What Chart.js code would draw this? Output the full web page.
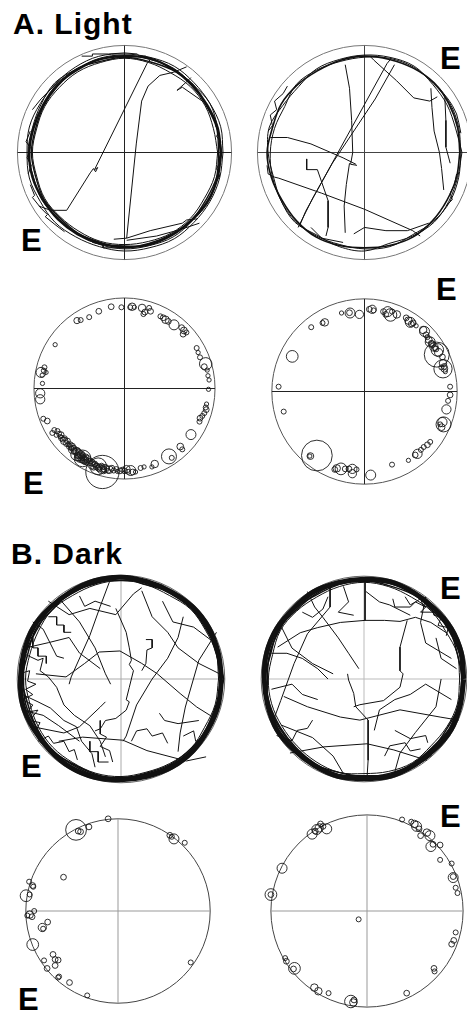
<!DOCTYPE html>
<html>
<head>
<meta charset="utf-8">
<title>Arena paths - Light / Dark</title>
<script src="https://cdn.jsdelivr.net/npm/chart.js"></script>
<style>
  body { margin: 0; width: 467px; height: 1015px; overflow: hidden; background: #fff; position: relative;
         font-family: "Liberation Sans", Arial, sans-serif; }
  canvas { position: absolute; }
  .lbl { position: absolute; font-weight: bold; line-height: 1; color: #000; white-space: nowrap; }
  .title { font-size: 30px; letter-spacing: 1px; }
  .e { font-size: 31px; }
</style>
</head>
<body>
<div class="lbl title" style="left:13px; top:9px;">A. Light</div>
<div class="lbl title" style="left:11px; top:539px;">B. Dark</div>
<div class="lbl e" style="left:21px; top:225px;">E</div>
<div class="lbl e" style="left:440px; top:43px;">E</div>
<div class="lbl e" style="left:23px; top:468px;">E</div>
<div class="lbl e" style="left:436px; top:274px;">E</div>
<div class="lbl e" style="left:21px; top:751px;">E</div>
<div class="lbl e" style="left:440px; top:573px;">E</div>
<div class="lbl e" style="left:18px; top:984px;">E</div>
<div class="lbl e" style="left:440px; top:801px;">E</div>

<canvas id="a1"></canvas>
<canvas id="a2"></canvas>
<canvas id="a3"></canvas>
<canvas id="a4"></canvas>
<canvas id="b1"></canvas>
<canvas id="b2"></canvas>
<canvas id="b3"></canvas>
<canvas id="b4"></canvas>

<script>
// arena units: wall = 100, centre = 0
const arenaRadius = 100;
const span = 106;
const crossSpan = [-100, 100];
const lapAngles = [0, 15, 30, 45, 60, 75, 90, 105, 120, 135, 150, 165, 180, 195, 210, 225, 240, 255, 270, 285, 300, 315, 330, 345];
const stopScale = 1.25;   // stop circle size, px per unit

// ---- A. Light, trajectory (left) ----
const a1Lap1 = [90, 90, 89, 89, 90, 91, 90, 90, 89, 89, 88, 88, 89, 89, 88, 88, 88, 88, 88, 89, 89, 89, 90, 90];
const a1Lap2 = [92, 93, 92, 92, 93, 92, 92, 93, 92, 91, 91, 92, 91, 92, 91, 92, 91, 91, 92, 92, 93, 92, 92, 92];
const a1Lap3 = [87, 86, 87, 87, 86, 87, 88, 87, 87, 86, 86, 85, 86, 85, 86, 85, 85, 86, 86, 86, 87, 87, 86, 87];
const a1Lap4 = [88, 89, 88, 90, 89, 88, 89, 88, 90, 88, 87, 86, 87, 86, 87, 86, 87, 87, 89, 88, 88, 89, 88, 89];
const a1Lap5 = [91, 90, 92, 90, 91, 90, 91, 91, 90, 92, 90, 89, 90, 88, 89, 87, 88, 89, 90, 90, 91, 90, 91, 90];
const a1Paths = [
  [[-80, -50], [-69, -54], [-54, -54], [-32, -19], [-29, -15], [-27, -18], [-25, -14], [-28, -16], [21, 83], [25, 88]],
  [[-10, -81], [2, -80], [11, 8], [16, 48], [22, 62], [33, 72], [46, 75], [58, 80]],
  [[62, 70], [58, 66], [49, 58], [54, 61], [77, 45]],
  [[2, -80], [24, -73], [54, -66], [58, -63], [68, -62]],
  [[2, -82], [30, -78], [52, -72], [70, -66]],
  [[-86, 40], [-78, 50], [-62, 66], [-50, 75]],
  [[-88, -30], [-84, -40], [-86, -42], [-78, -52], [-72, -58], [-74, -60], [-64, -68], [-56, -74]],
  [[-40, 90], [-30, 90], [-30, 92], [-15, 92], [0, 93], [12, 92], [14, 90], [20, 90]],
  [[85, 25], [88, 20], [86, 15], [90, 10], [87, 0], [90, -8], [86, -15], [89, -22], [84, -30]],
  [[-88, 20], [-92, 10], [-88, 5], [-91, -5], [-87, -12], [-90, -20]],
  [[-30, -84], [-20, -86], [-20, -89], [-5, -89], [-5, -87], [8, -88]]
];

// ---- A. Light, trajectory (right) ----
const a2Lap1 = [89, 90, 91, 92, 91, 90, 90, 89, 88, 89, 90, 89, 91, 90, 89, 90, 91, 90, 89, 90, 91, 90, 89, 89];
const a2Lap2 = [91, 88, 89, 90, 93, 92, 91, 90, 90, 87, 88, 92, 90, 88, 90, 92, 89, 91, 92, 88, 90, 92, 91, 90];
const a2Lap3 = [90, 91, 92, 91, 92, 91, 89, 88, 89, 90, 86, 87, 88, 89, 90, 91, 90, 89, 90, 91, 89, 91, 92, 91];
const a2Paths = [
  [[-60, -67], [-55, -55], [21, 83], [25, 88]],
  [[-62, -70], [-48, -42], [-30, -10], [10, 50], [28, 82]],
  [[-18, 82], [-14, 60], [-12, 30], [-11, 0], [-13, -11], [-7, -12]],
  [[-14, -10], [-17, -30], [-19, -50], [-18, -75]],
  [[-91, -12], [-90, -20], [-84, -23], [-80, -24], [-40, -38], [0, -53], [45, -73], [52, -78]],
  [[-88, 14], [-72, 14], [-50, 8], [-20, -5], [-8, -11]],
  [[-54, -6], [-54, -16], [-44, -16], [-34, -45], [-34, -70], [-36, -78]],
  [[5, 90], [9, 86], [30, 67], [46, 51], [61, 48], [68, 52]],
  [[62, 60], [63, 42], [65, 20], [70, 0], [72, -15], [74, -35]],
  [[75, 52], [76, 30], [76, 5], [80, -10]],
  [[-10, -76], [0, -70], [20, -73], [40, -73], [60, -66]],
  [[-50, -70], [-40, -80], [-20, -84]],
  [[-90, 20], [-86, 25], [-88, 35], [-82, 40], [-84, 48], [-76, 55], [-72, 62]],
  [[70, 60], [74, 55], [78, 50], [82, 44], [86, 36], [88, 28], [90, 18]],
  [[86, -20], [84, -30], [80, -38], [82, -44], [76, -50]]
];

// ---- A. Light, stops (x, y, radius) ----
const a3Stops = [
  [-52.5, 75, 2.5], [-48.4, 75.6, 2], [-39, 78.8, 2], [-28.4, 85.3, 2.3], [-14.7, 90.3, 2.3], [-3.4, 89.7, 2],
  [6.3, 89.7, 2], [8.4, 90.3, 3], [10.9, 89.7, 1.7], [19.4, 89, 3], [22.5, 84.4, 2.3], [20.9, 82.2, 2],
  [27.2, 89, 2], [28.8, 85.3, 2.3], [39.7, 79.7, 2], [42.8, 78.1, 2.3], [45.3, 75.9, 3], [48.4, 74.1, 2.3],
  [54.7, 70.3, 4], [63.1, 67.2, 2.3], [65.6, 64.1, 2.7], [68.4, 61.9, 2], [64.7, 60, 2.3], [-76.6, 48.4, 1.7],
  [79.7, 44.7, 2], [81.3, 39.7, 1.7], [83.4, 34.4, 2], [89.7, 27.2, 5], [88.1, 24.1, 2.3], [91.3, 20.3, 1.7],
  [92.2, 14.1, 1.7], [93.4, 9.4, 1.7], [92.8, -0.9, 1.7], [90.6, -17.2, 1.7], [89.7, -20.9, 2], [90.3, -23.4, 2.3],
  [88.1, -27.2, 2], [85.9, -30.3, 2], [83.4, -32.8, 2.3], [82.8, -36.6, 2], [73.4, -50.9, 4], [61.6, -64.1, 2.7],
  [63.8, -67.2, 2], [49.1, -75, 6], [52.2, -76.6, 2], [33.4, -83.4, 3], [30.3, -86.6, 1.7], [21.6, -86.6, 1.7],
  [17.8, -87.8, 2], [-88.4, 23.4, 2], [-89.1, 19.7, 2], [-86.6, 17.8, 1.7], [-92.2, 17.8, 4], [-90.9, 14.7, 1.7],
  [-90.6, 5.6, 1.7], [-93.1, -5.3, 3.7], [-93.1, -11.9, 3.7], [-89.7, -33.4, 2], [-85.3, -35.9, 2.3],
  [-77.5, -45.9, 2], [-79.7, -49.1, 2], [-75.3, -51.6, 1.7], [-72.2, -50, 2], [-69.7, -54.7, 2.3], [-66.6, -57.8, 3],
  [-64.1, -60.9, 2.3], [-60.9, -64.1, 2.3], [-57.2, -67.8, 3.3], [-52.5, -72.8, 5], [-49.4, -75.9, 4],
  [-46.3, -77.2, 6.7], [-44.1, -79.1, 3.3], [-40, -81.3, 3], [-35.9, -84.4, 3.3], [-29.1, -85.9, 6.7],
  [-24.4, -92.2, 13.3], [-25.9, -89.1, 3.3], [-21.3, -88.4, 3.3], [-16.6, -89.7, 3], [-11.9, -90.6, 2],
  [-7.8, -91.6, 1.7], [-2.5, -89.7, 2], [2.2, -89.1, 3], [6.9, -90.6, 4], [9.1, -92.2, 2.3], [12.2, -92.2, 1.7],
  [-54.1, -70.3, 2.3], [-50.9, -74.1, 2.3], [-47.8, -75, 2], [-45.3, -76.6, 2.3], [-42.2, -78.4, 2],
  [-50.3, -76.6, 2.7], [-47.2, -79.1, 2.3], [-44.1, -80.9, 2], [-32.8, -83.4, 2.3], [-30.6, -85.3, 2],
  [-27.5, -86.6, 2.3], [-25.3, -85.3, 2], [-22.8, -89.1, 2.3], [-19.7, -87.8, 2], [-27.5, -89.1, 2],
  [-68.1, -56.3, 2], [-71, -53.1, 1.7], [-62.2, -61.6, 2], [-58.8, -65.9, 2], [-55.9, -68.8, 2.3],
  [-60, -62, 2.3], [-58, -64, 2.7], [-56, -66, 2.3], [-53, -69, 3], [-51, -71, 2.7], [-48, -73, 3],
  [-46, -74, 2.3], [-43, -76, 2.7], [-41, -78, 3], [-38, -80, 2.3], [-36, -82, 2.7], [-33, -84, 2],
  [-31, -86, 2.7], [-52, -74, 2.3], [-49, -77, 2], [-45, -79, 2.7], [-42, -81, 2.3], [-34, -87, 2.3],
  [-29, -88, 2.3], [-24, -87, 2], [-23, -91, 2.3], [-18, -91, 2], [-14, -88, 2.3], [-9, -89, 2],
  [-5, -91, 2.3], [0, -91, 2.3], [4, -92, 2], [-74, -47, 2], [-70, -51, 2.3], [-66, -55, 2], [-63, -58, 2.3]
];
const a4Stops = [
  [-24.8, 84.7, 1.7], [-15.6, 84.7, 4], [-16.2, 85, 2.3], [-5.5, 83.2, 3.3], [5.2, 88.7, 2.3], [8.3, 88.7, 3.3],
  [9.8, 87.5, 2], [20.5, 86.2, 2.3], [25.1, 86.2, 4], [28.1, 82.6, 5], [22.9, 83.2, 2.3], [29.7, 86.2, 2],
  [34.9, 83.2, 3], [45, 79.5, 2.3], [47.4, 76.5, 3], [49.5, 74.6, 4], [52.6, 74, 2.3], [55.7, 70.9, 1.7],
  [63.3, 66.4, 3], [64.8, 64.8, 4], [66.4, 61.2, 2.3], [67.9, 58.7, 2], [69.4, 55.7, 2.7], [70.9, 53.5, 4],
  [73.1, 51.1, 2.7], [74.9, 48, 3.3], [77.1, 45.9, 2.3], [78.6, 45, 5], [78, 39.8, 10], [84.1, 37.3, 2.3],
  [84.7, 30.6, 3], [86.2, 24.5, 2.7], [87.2, 21.4, 1.7], [84.7, 24.5, 7.3], [-57.5, 69.4, 2], [-45.3, 74, 2],
  [-42.8, 74.6, 3], [-78, 37.9, 4.7], [-92.7, 5.2, 2], [-87.2, -21.7, 2], [92.4, 5.2, 2], [92.4, -3.7, 2.3],
  [90.2, -10.1, 2], [88.4, -19.3, 3.7], [84.1, -33, 3.7], [85.3, -35.5, 6], [83.2, -38.5, 2.7], [81.7, -35.5, 2],
  [70.9, -54.4, 2], [67.9, -57.5, 2.3], [63.9, -59.9, 2], [60.9, -63, 2], [57.2, -67.3, 3.7], [54.7, -68.5, 2.3],
  [47.4, -74.3, 1.7], [29.7, -78.9, 2], [6.7, -90.2, 4], [-8.6, -84.1, 2], [-13.1, -88.7, 3.3], [-13.1, -83.5, 3.7],
  [-16.8, -83.5, 2.3], [-20.8, -83.5, 2.3], [-25.4, -83.5, 4.7], [-30, -82.9, 3], [-32.1, -84.1, 2.3],
  [-51.4, -69.1, 12.3], [-58.4, -69.7, 2.7], [-59, -69.7, 1.7],
  [50.5, 73, 2.3], [72, 52, 2.3], [76, 47, 2], [80, 42, 3.3], [86, 27, 2.3], [83, 26, 2]
];

// ---- B. Dark, trajectory (left) ----
const b1Lap1 = [97, 97, 98, 98, 97, 97, 98, 98, 97, 97, 98, 97, 97, 98, 97, 97, 98, 98, 97, 97, 98, 98, 97, 97];
const b1Lap2 = [99, 95, 96, 96, 95, 96, 95, 96, 95, 96, 94, 95, 94, 95, 94, 95, 95, 96, 95, 95, 96, 96, 95, 95];
const b1Lap3 = [96, 97, 95, 96, 96, 94, 97, 95, 96, 94, 95, 93, 95, 93, 94, 96, 94, 95, 96, 94, 95, 95, 96, 97];
const b1Lap4 = [94, 95, 94, 95, 93, 94, 95, 94, 93, 94, 92, 91, 92, 91, 92, 93, 93, 94, 94, 93, 94, 95, 93, 94];
const b1Paths = [
  [[-82, 5], [-53, 2], [-35, 15], [-21, 26], [-1, 27], [20, 15], [35, 5], [57, -14], [73, -27], [89, -37]],
  [[-11, 94], [-20, 70], [-30, 42], [-48, 2], [-50, -5]],
  [[-70, 75], [-50, 62], [-30, 68], [-5, 62], [12, 82], [20, 88]],
  [[-5, 68], [5, 45], [8, 30], [10, 18], [8, 14], [12, 8], [8, -8], [5, -20], [8, -22], [5, -30], [-5, -38], [-15, -40], [-18, -45], [-20, -48], [-25, -50]],
  [[60, 60], [55, 40], [45, 20], [30, 0], [15, -25], [5, -55], [2, -60]],
  [[24, 38], [30, 38], [30, 30], [25, 28], [24, 15], [20, 8]],
  [[-60, -60], [-37, -56], [2, -59], [25, -69], [63, -79], [82, -75]],
  [[-95, 25], [-80, 18], [-75, 20], [-78, 8], [-70, 2], [-62, -8], [-55, -25], [-45, -35], [-30, -45], [-20, -60], [-15, -75]],
  [[-97, -14], [-80, -22], [-68, -28], [-55, -40], [-43, -46], [-38, -60], [-28, -72], [-25, -85]],
  [[-85, 55], [-75, 48], [-65, 28], [-62, 22], [-55, 20]],
  [[-85, -46], [-55, -52], [-40, -46], [-20, -27], [-15, -22]],
  [[92, 45], [75, 18], [62, -27], [57, -52], [55, -70]],
  [[37, -33], [42, -40], [55, -43], [75, -40]],
  [[-20, -40], [-20, -53], [-14, -56], [-20, -65], [-11, -69], [-8, -80]],
  [[-90, 40], [-85, 40], [-85, 30], [-80, 30], [-80, 22], [-72, 22], [-72, 15]],
  [[-60, 78], [-40, 55], [-25, 30], [-15, 5], [-10, -5]],
  [[20, 85], [30, 60], [45, 45], [55, 30], [75, 15], [95, 5]],
  [[-98, 5], [-88, 8], [-90, -2], [-82, -5], [-92, -10], [-85, -15], [-95, -20], [-85, -25], [-90, -32], [-80, -30], [-88, -40], [-78, -42], [-82, -50]],
  [[-70, 60], [-62, 60], [-62, 52], [-55, 52], [-55, 45], [-48, 45]],
  [[-40, 80], [-35, 70], [-25, 75], [-10, 70]],
  [[-80, -60], [-70, -55], [-65, -62], [-55, -60], [-50, -70], [-45, -68], [-42, -78]],
  [[-30, -60], [-30, -70], [-22, -70], [-22, -80], [-12, -80]],
  [[10, -60], [15, -50], [25, -48], [30, -55], [40, -52], [45, -62]],
  [[60, -55], [70, -50], [72, -60], [80, -58], [85, -48]],
  [[-95, -30], [-75, -35], [-60, -45], [-40, -60]],
  [[-92, 30], [-70, 35], [-50, 40], [-40, 25], [-20, 10]],
  [[40, 75], [50, 55], [70, 50], [90, 35]]
];

// ---- B. Dark, trajectory (right) ----
const b2Lap1 = [97, 98, 98, 97, 97, 98, 97, 97, 98, 97, 98, 98, 97, 97, 98, 97, 97, 98, 97, 98, 97, 97, 98, 97];
const b2Lap2 = [95, 96, 95, 96, 95, 94, 96, 95, 94, 96, 95, 95, 94, 96, 95, 95, 96, 94, 95, 95, 96, 95, 94, 96];
const b2Lap3 = [96, 94, 96, 94, 96, 96, 95, 96, 95, 94, 96, 94, 96, 95, 94, 94, 95, 96, 94, 96, 95, 94, 96, 95];
const b2Lap4 = [93, 94, 92, 93, 92, 93, 94, 93, 92, 93, 94, 92, 93, 93, 92, 92, 93, 94, 92, 93, 94, 92, 93, 94];
const b2Paths = [
  [[1, 94], [1, 57], [-23, 55], [-45, 50], [-62, 45], [-84, 31]],
  [[1, 57], [20, 57], [35, 56], [50, 60], [65, 55], [80, 45]],
  [[42, 57], [35, 31], [35, 8], [38, 5], [35, -8], [19, -21], [-4, -25], [-10, -27]],
  [[-16, 5], [-15, -1], [-10, -14], [-8, -27], [4, -40], [4, -66], [4, -79], [3, -95]],
  [[-33, 93], [-33, 70], [-55, 44], [-68, 15], [-81, -21], [-88, -40]],
  [[-78, -17], [-55, -27], [-23, -37], [-4, -40]],
  [[-4, -40], [35, -30], [74, -37], [92, -40]],
  [[-72, -72], [-39, -66], [3, -63], [29, -69], [61, -79]],
  [[75, 0], [70, -27], [50, -52], [35, -72], [30, -90]],
  [[-80, -45], [-50, -57], [-30, -75], [-20, -92]],
  [[2, 85], [15, 75], [25, 72], [45, 62]],
  [[-55, 85], [-48, 70], [-40, 60], [-25, 40], [-15, 25], [-5, 10]],
  [[-90, 25], [-75, 25], [-60, 20], [-45, 10], [-35, 0]],
  [[28, 78], [30, 70], [45, 70], [50, 75], [60, 70], [55, 65], [70, 65]],
  [[30, -50], [45, -58], [60, -55], [62, -62]],
  [[-80, 50], [-70, 30], [-50, 15], [-30, 5]],
  [[60, 80], [55, 55], [60, 35], [85, 20]],
  [[-90, -10], [-70, -5], [-60, -15], [-45, -20]],
  [[-85, -55], [-70, -60], [-65, -50], [-55, -48], [-50, -40]],
  [[20, -75], [25, -65], [40, -62], [45, -70], [55, -68]],
  [[70, 40], [75, 20], [90, 10]],
  [[-20, 90], [-15, 75], [-25, 65], [-10, 62]],
  [[-60, 65], [-50, 60], [-40, 68], [-35, 80]],
  [[80, -55], [70, -65], [65, -75], [50, -85]],
  [[10, -50], [15, -30], [30, -20], [45, -15], [60, -5], [85, -20]],
  [[40, 80], [45, 72], [55, 78], [58, 70], [65, 72], [68, 62], [75, 60], [72, 52], [82, 50], [80, 42]]
];

// ---- B. Dark, stops ----
const b3Stops = [
  [-10.7, 100, 2.3], [-45.5, 88, 8.3], [-43.2, 86.7, 2.3], [-40.6, 86, 2.3], [-31.5, 91.2, 2.3], [56.2, 82.1, 2.3],
  [58.4, 80.5, 2], [60.7, 78.2, 4], [72.4, 74, 2], [-59.1, 36.7, 2.3], [-96.4, 31.8, 2], [-92.5, 27.6, 2.3],
  [-91.9, 26.3, 2], [-99.7, 16.6, 4.7], [-95.8, 17.9, 2], [-90.9, 0, 2], [-95.8, -3.9, 3], [-98.4, -4.9, 2],
  [-93.2, -6.2, 2.3], [-76.3, -12, 2.3], [-82.1, -17.9, 3.3], [-81.2, -19.2, 2], [-92.5, -36.4, 4.7],
  [-70.5, -47.1, 2.3], [-80.2, -53.6, 2], [-68.2, -52.6, 2.3], [-64.9, -53.2, 2.3], [-68.2, -59.1, 2.3],
  [-76.9, -62.3, 2.3], [-64.9, -72.1, 2], [-63.9, -71.1, 2], [-52.6, -77.6, 2.3], [-33.4, -91.6, 2], [78.9, -55.8, 2]
];
const b4Stops = [
  [-48.4, 90.6, 2.3], [-49.7, 86.5, 3.3], [-52.3, 84.8, 4], [-45.8, 88.1, 2.3], [-41.9, 85.5, 4], [-57.1, 80, 4],
  [-53.9, 83.2, 2.3], [-88.4, 44.5, 4], [-100, 17.1, 4.7], [-100, 17.1, 2.3], [-8.7, -8.7, 2], [-85.2, -49, 2],
  [-83.9, -52.3, 2.3], [-75.5, -59.7, 4.7], [-76.5, -60.3, 2.3], [-54.8, -79.7, 3], [-50.6, -83.5, 3],
  [-40, -85.5, 2], [-16.8, -94.2, 5], [-14.2, -95.2, 3], [-13.5, -92.6, 2.3], [41.3, -85.5, 2.3], [69.7, -59.7, 2.3],
  [70.3, -62.9, 2], [88.1, -34.5, 2.3], [90.3, -30.6, 2.3], [92.3, -22.3, 2], [36.5, 95.2, 2], [46.1, 92.9, 2],
  [49.4, 90.6, 3], [51.6, 88.1, 4], [54.2, 85.5, 2.3], [55.8, 78.4, 2.3], [62.3, 81.6, 3], [65.5, 78.4, 4],
  [66.5, 67.1, 4], [68.7, 69.4, 2.3], [76.1, 68.7, 2.3], [76.1, 53.2, 2], [88.1, 49.4, 2], [89.7, 34.8, 4],
  [89.7, 35.8, 2.3], [92.3, 24.2, 2], [94.2, 18.7, 2]
];

// ---------- helpers ----------
function polar(deg, r) {
  const a = deg * Math.PI / 180;
  return { x: r * Math.cos(a), y: r * Math.sin(a) };
}
function lap(radii) {
  const pts = radii.map((r, i) => polar(lapAngles[i], r));
  pts.push(pts[0]);
  return pts;
}
function path(pairs) {
  return pairs.map(p => ({ x: p[0], y: p[1] }));
}
function line(points, color, width, tension) {
  return { type: 'scatter', data: points, showLine: true, borderColor: color, backgroundColor: color,
           borderWidth: width, pointRadius: 0, fill: false, tension: tension || 0, clip: false };
}
function ring(radii, width) {
  return line(lap(radii), '#111', width, 0.35);
}
function bubbles(stops) {
  return { type: 'bubble', data: stops.map(s => ({ x: s[0], y: s[1], r: s[2] * stopScale })),
           borderColor: '#1a1a1a', borderWidth: 0.9, backgroundColor: 'rgba(0,0,0,0)', clip: false };
}
function cross(color) {
  return [
    line(path([[crossSpan[0], 0], [crossSpan[1], 0]]), color, 1),
    line(path([[0, crossSpan[0]], [0, crossSpan[1]]]), color, 1)
  ];
}

const arenaPlugin = {
  id: 'arena',
  beforeDatasetsDraw(chart, args, opts) {
    const { ctx, scales: { x, y } } = chart;
    const cx = x.getPixelForValue(0), cy = y.getPixelForValue(0);
    const r = x.getPixelForValue(arenaRadius) - cx;
    ctx.save();
    ctx.beginPath();
    ctx.arc(cx, cy, r, 0, Math.PI * 2);
    ctx.strokeStyle = opts.color;
    ctx.lineWidth = opts.width;
    ctx.stroke();
    ctx.restore();
  }
};

function arena(id, cx, cy, R, datasets, circleColor) {
  const size = Math.round(2 * R * span / arenaRadius);
  const cv = document.getElementById(id);
  cv.width = size; cv.height = size;
  cv.style.width = size + 'px'; cv.style.height = size + 'px';
  cv.style.left = (cx - size / 2) + 'px';
  cv.style.top = (cy - size / 2) + 'px';
  new Chart(cv, {
    type: 'scatter',
    data: { datasets: datasets },
    options: {
      responsive: false,
      animation: false,
      devicePixelRatio: 1,
      layout: { padding: 0 },
      events: [],
      plugins: { legend: { display: false }, tooltip: { enabled: false },
                 arena: { color: circleColor, width: 1 } },
      scales: {
        x: { type: 'linear', min: -span, max: span, display: false },
        y: { type: 'linear', min: -span, max: span, display: false }
      }
    },
    plugins: [arenaPlugin]
  });
}

const ink = '#111';

arena('a1', 124, 152, 107, [
  ring(a1Lap1, 2.4), ring(a1Lap2, 1), ring(a1Lap3, 1), ring(a1Lap4, 1.4), ring(a1Lap5, 1),
  ...a1Paths.map(p => line(path(p), ink, 1)),
  ...cross('#222')
], '#777');

arena('a2', 364, 152, 107, [
  ring(a2Lap1, 1.6), ring(a2Lap2, 1), ring(a2Lap3, 1),
  ...a2Paths.map(p => line(path(p), ink, 1)),
  ...cross('#444')
], '#777');

arena('a3', 124, 388, 107, [bubbles(a3Stops), ...cross('#222')], '#555');
arena('a4', 364, 391, 108, [bubbles(a4Stops), ...cross('#222')], '#555');

arena('b1', 121, 679, 104, [
  ring(b1Lap1, 5), ring(b1Lap2, 1.5), ring(b1Lap3, 1.5), ring(b1Lap4, 1),
  ...b1Paths.map(p => line(path(p), ink, 1)),
  ...cross('#aaa')
], '#666');

arena('b2', 364, 679, 103, [
  ring(b2Lap1, 5), ring(b2Lap2, 1.5), ring(b2Lap3, 1.5), ring(b2Lap4, 1),
  ...b2Paths.map(p => line(path(p), ink, 1)),
  ...cross('#bbb')
], '#666');

arena('b3', 118, 911, 103, [bubbles(b3Stops), ...cross('#999')], '#444');
arena('b4', 367, 911, 103, [bubbles(b4Stops), ...cross('#999')], '#444');
</script>
</body>
</html>
